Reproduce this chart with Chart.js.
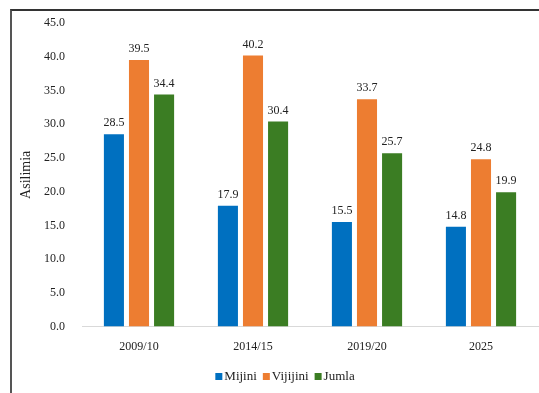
<!DOCTYPE html>
<html>
<head>
<meta charset="utf-8">
<script src="https://cdn.jsdelivr.net/npm/chart.js@4/dist/chart.umd.min.js"></script>
<style>
  html, body { margin: 0; padding: 0; background: #fff; }
  #wrap { position: relative; width: 539px; height: 393px; }
  #frame { position: absolute; left: 10px; top: 9px; right: 0; bottom: 0;
           border-left: 2px solid #555; border-top: 2px solid #333; }
  canvas { position: absolute; left: 0; top: 0; }
</style>
</head>
<body>
<div id="wrap">
  <div id="frame"></div>
  <canvas id="myChart" width="539" height="393"></canvas>
</div>
<script>
const labels = ['2009/10', '2014/15', '2019/20', '2025'];
const mijini = [28.5, 17.9, 15.5, 14.8];
const vijijini = [39.5, 40.2, 33.7, 24.8];
const jumla = [34.4, 30.4, 25.7, 19.9];
const yTicks = [0, 5, 10, 15, 20, 25, 30, 35, 40, 45];

const serif = "'Liberation Serif', 'Times New Roman', serif";

// value printed above each bar
const barValues = {
  id: 'barValues',
  afterDatasetsDraw(chart) {
    const ctx = chart.ctx;
    ctx.save();
    ctx.font = '12px ' + serif;
    ctx.fillStyle = '#222';
    ctx.textAlign = 'center';
    ctx.textBaseline = 'bottom';
    chart.data.datasets.forEach((ds, i) => {
      chart.getDatasetMeta(i).data.forEach((bar, j) => {
        ctx.fillText(ds.data[j].toFixed(1), bar.x, bar.y - 5);
      });
    });
    ctx.restore();
  }
};

// compact legend: small square, text right next to it
const tightLegend = {
  id: 'tightLegend',
  afterDraw(chart) {
    const ctx = chart.ctx;
    const box = 7, gap = 2, spacing = 6;
    const y = 377;
    ctx.save();
    ctx.font = '13px ' + serif;
    ctx.textBaseline = 'middle';
    ctx.textAlign = 'left';
    const items = chart.data.datasets.map(ds => ({
      text: ds.label, color: ds.backgroundColor, w: ctx.measureText(ds.label).width
    }));
    const total = items.reduce((s, it) => s + box + gap + it.w, 0) + spacing * (items.length - 1);
    let x = 285 - total / 2;
    items.forEach(it => {
      ctx.fillStyle = it.color;
      ctx.fillRect(x, y - 4, box, box);
      x += box + gap;
      ctx.fillStyle = '#222';
      ctx.fillText(it.text, x, y);
      x += it.w + spacing;
    });
    ctx.restore();
  }
};

new Chart(document.getElementById('myChart'), {
  type: 'bar',
  data: {
    labels: labels,
    datasets: [
      { label: 'Mijini', data: mijini, backgroundColor: '#0070C0' },
      { label: 'Vijijini', data: vijijini, backgroundColor: '#ED7D31' },
      { label: 'Jumla', data: jumla, backgroundColor: '#3B7D23' }
    ]
  },
  options: {
    responsive: false,
    animation: false,
    categoryPercentage: 0.66,
    barPercentage: 0.8,
    layout: { padding: { top: 23, right: 1, bottom: 34, left: 0 } },
    plugins: {
      legend: { display: false },
      tooltip: { enabled: false }
    },
    scales: {
      x: {
        grid: { display: false },
        border: { display: true, color: '#d9d9d9', width: 1 },
        ticks: { font: { family: serif, size: 12 }, color: '#222', padding: 5 }
      },
      y: {
        min: 0,
        max: 45,
        afterBuildTicks: scale => { scale.ticks = yTicks.map(v => ({ value: v })); },
        afterFit: scale => { scale.width = 82; },
        grid: { display: false },
        border: { display: false },
        ticks: {
          font: { family: serif, size: 12 },
          color: '#222',
          padding: 9,
          callback: v => v.toFixed(1)
        },
        title: {
          display: true,
          text: 'Asilimia',
          font: { family: serif, size: 14 },
          color: '#222',
          padding: { top: 18, bottom: 0 }
        }
      }
    }
  },
  plugins: [barValues, tightLegend]
});
</script>
</body>
</html>
